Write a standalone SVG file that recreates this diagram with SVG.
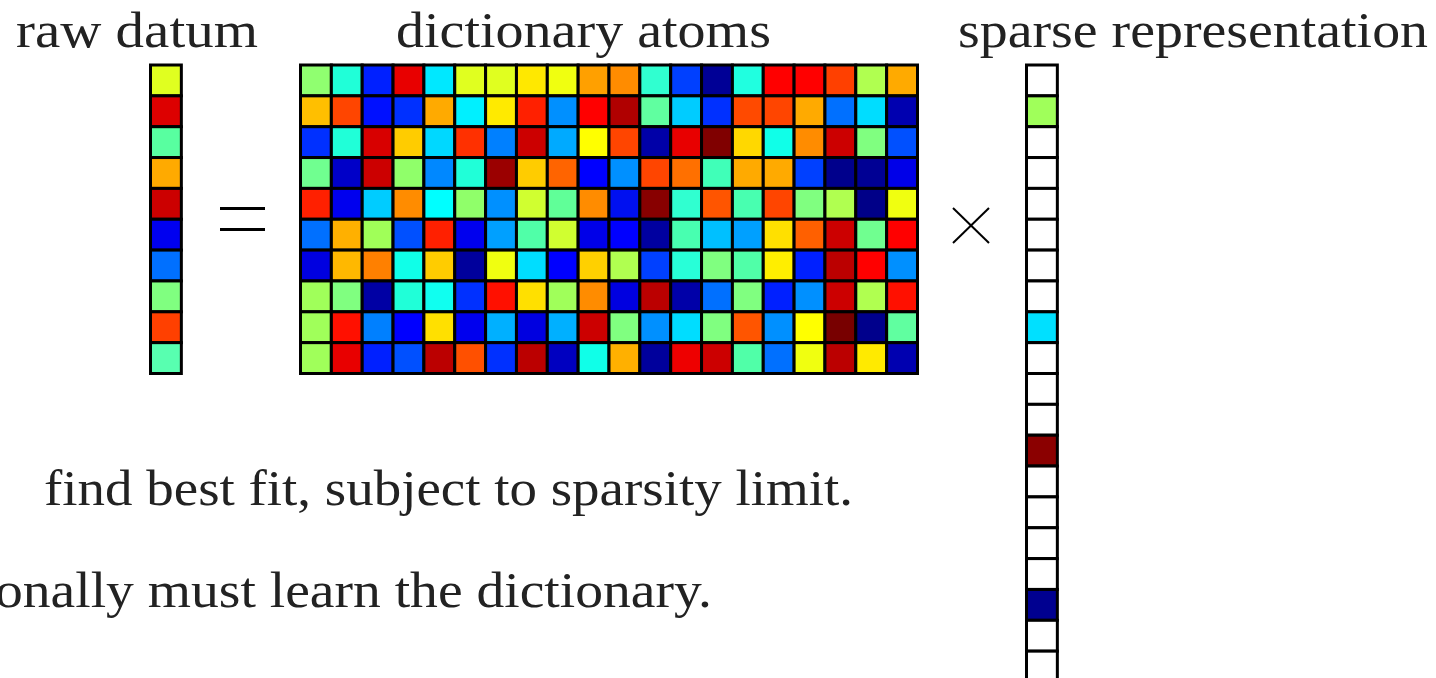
<svg xmlns="http://www.w3.org/2000/svg" width="1436" height="678" viewBox="0 0 1436 678">
<style>
.t{font-family:"Liberation Serif","DejaVu Serif",serif;font-size:50px;fill:#222}
.cells rect{stroke:#000;stroke-width:3}
.op{stroke:#000;fill:none}
</style>
<rect width="1436" height="678" fill="#fff"/>
<g id="labels">
<text class="t" x="16" y="47" textLength="242" lengthAdjust="spacingAndGlyphs">raw datum</text>
<text class="t" x="396" y="47" textLength="375" lengthAdjust="spacingAndGlyphs">dictionary atoms</text>
<text class="t" x="958" y="47" textLength="470" lengthAdjust="spacingAndGlyphs">sparse representation</text>
<text class="t" x="44" y="505" textLength="809" lengthAdjust="spacingAndGlyphs">find best fit, subject to sparsity limit.</text>
<text class="t" x="-5" y="607" textLength="717" lengthAdjust="spacingAndGlyphs">onally must learn the dictionary.</text>
</g>
<g id="raw-datum" class="cells">
<rect x="150.5" y="65" width="30.85" height="30.85" fill="#e0ff20"/>
<rect x="150.5" y="95.85" width="30.85" height="30.85" fill="#dd0000"/>
<rect x="150.5" y="126.7" width="30.85" height="30.85" fill="#58ffa0"/>
<rect x="150.5" y="157.55" width="30.85" height="30.85" fill="#ffaa00"/>
<rect x="150.5" y="188.4" width="30.85" height="30.85" fill="#cc0000"/>
<rect x="150.5" y="219.25" width="30.85" height="30.85" fill="#0000f0"/>
<rect x="150.5" y="250.1" width="30.85" height="30.85" fill="#0070ff"/>
<rect x="150.5" y="280.95" width="30.85" height="30.85" fill="#80ff80"/>
<rect x="150.5" y="311.8" width="30.85" height="30.85" fill="#ff4000"/>
<rect x="150.5" y="342.65" width="30.85" height="30.85" fill="#58ffb0"/>
</g>
<g id="equals" class="op" stroke-width="3">
<line x1="220" y1="208.5" x2="265" y2="208.5"/>
<line x1="220" y1="229.5" x2="265" y2="229.5"/>
</g>
<g id="dictionary" class="cells">
<g transform="translate(0,65)">
<rect x="300.5" width="30.85" height="30.85" fill="#90ff70"/>
<rect x="331.35" width="30.85" height="30.85" fill="#20ffd8"/>
<rect x="362.2" width="30.85" height="30.85" fill="#0020ff"/>
<rect x="393.05" width="30.85" height="30.85" fill="#e80000"/>
<rect x="423.9" width="30.85" height="30.85" fill="#00e8ff"/>
<rect x="454.75" width="30.85" height="30.85" fill="#e0ff20"/>
<rect x="485.6" width="30.85" height="30.85" fill="#e0ff20"/>
<rect x="516.45" width="30.85" height="30.85" fill="#ffe800"/>
<rect x="547.3" width="30.85" height="30.85" fill="#f0ff10"/>
<rect x="578.15" width="30.85" height="30.85" fill="#ffa000"/>
<rect x="609" width="30.85" height="30.85" fill="#ff8c00"/>
<rect x="639.85" width="30.85" height="30.85" fill="#30ffd0"/>
<rect x="670.7" width="30.85" height="30.85" fill="#0040ff"/>
<rect x="701.55" width="30.85" height="30.85" fill="#000096"/>
<rect x="732.4" width="30.85" height="30.85" fill="#20ffe0"/>
<rect x="763.25" width="30.85" height="30.85" fill="#ff0000"/>
<rect x="794.1" width="30.85" height="30.85" fill="#ff0000"/>
<rect x="824.95" width="30.85" height="30.85" fill="#ff4000"/>
<rect x="855.8" width="30.85" height="30.85" fill="#b0ff50"/>
<rect x="886.65" width="30.85" height="30.85" fill="#ffaa00"/>
</g>
<g transform="translate(0,95.85)">
<rect x="300.5" width="30.85" height="30.85" fill="#ffbf00"/>
<rect x="331.35" width="30.85" height="30.85" fill="#ff4500"/>
<rect x="362.2" width="30.85" height="30.85" fill="#0010ff"/>
<rect x="393.05" width="30.85" height="30.85" fill="#0030ff"/>
<rect x="423.9" width="30.85" height="30.85" fill="#ffaa00"/>
<rect x="454.75" width="30.85" height="30.85" fill="#00f0ff"/>
<rect x="485.6" width="30.85" height="30.85" fill="#ffea00"/>
<rect x="516.45" width="30.85" height="30.85" fill="#ff2000"/>
<rect x="547.3" width="30.85" height="30.85" fill="#0090ff"/>
<rect x="578.15" width="30.85" height="30.85" fill="#ff0000"/>
<rect x="609" width="30.85" height="30.85" fill="#b00000"/>
<rect x="639.85" width="30.85" height="30.85" fill="#60ffa0"/>
<rect x="670.7" width="30.85" height="30.85" fill="#00ccff"/>
<rect x="701.55" width="30.85" height="30.85" fill="#0030ff"/>
<rect x="732.4" width="30.85" height="30.85" fill="#ff4a00"/>
<rect x="763.25" width="30.85" height="30.85" fill="#ff4500"/>
<rect x="794.1" width="30.85" height="30.85" fill="#ffaa00"/>
<rect x="824.95" width="30.85" height="30.85" fill="#0070ff"/>
<rect x="855.8" width="30.85" height="30.85" fill="#00ddff"/>
<rect x="886.65" width="30.85" height="30.85" fill="#0000b0"/>
</g>
<g transform="translate(0,126.7)">
<rect x="300.5" width="30.85" height="30.85" fill="#0030ff"/>
<rect x="331.35" width="30.85" height="30.85" fill="#20ffd8"/>
<rect x="362.2" width="30.85" height="30.85" fill="#d80000"/>
<rect x="393.05" width="30.85" height="30.85" fill="#ffcc00"/>
<rect x="423.9" width="30.85" height="30.85" fill="#00d8ff"/>
<rect x="454.75" width="30.85" height="30.85" fill="#ff3000"/>
<rect x="485.6" width="30.85" height="30.85" fill="#0080ff"/>
<rect x="516.45" width="30.85" height="30.85" fill="#cc0000"/>
<rect x="547.3" width="30.85" height="30.85" fill="#00aaff"/>
<rect x="578.15" width="30.85" height="30.85" fill="#ffff00"/>
<rect x="609" width="30.85" height="30.85" fill="#ff4500"/>
<rect x="639.85" width="30.85" height="30.85" fill="#0000a8"/>
<rect x="670.7" width="30.85" height="30.85" fill="#e80000"/>
<rect x="701.55" width="30.85" height="30.85" fill="#800000"/>
<rect x="732.4" width="30.85" height="30.85" fill="#ffd800"/>
<rect x="763.25" width="30.85" height="30.85" fill="#10ffe8"/>
<rect x="794.1" width="30.85" height="30.85" fill="#ff8c00"/>
<rect x="824.95" width="30.85" height="30.85" fill="#cc0000"/>
<rect x="855.8" width="30.85" height="30.85" fill="#80ff80"/>
<rect x="886.65" width="30.85" height="30.85" fill="#0050ff"/>
</g>
<g transform="translate(0,157.55)">
<rect x="300.5" width="30.85" height="30.85" fill="#70ff90"/>
<rect x="331.35" width="30.85" height="30.85" fill="#0000c8"/>
<rect x="362.2" width="30.85" height="30.85" fill="#cc0000"/>
<rect x="393.05" width="30.85" height="30.85" fill="#90ff6a"/>
<rect x="423.9" width="30.85" height="30.85" fill="#0088ff"/>
<rect x="454.75" width="30.85" height="30.85" fill="#20ffd8"/>
<rect x="485.6" width="30.85" height="30.85" fill="#9b0000"/>
<rect x="516.45" width="30.85" height="30.85" fill="#ffcc00"/>
<rect x="547.3" width="30.85" height="30.85" fill="#ff6400"/>
<rect x="578.15" width="30.85" height="30.85" fill="#0000ff"/>
<rect x="609" width="30.85" height="30.85" fill="#0090ff"/>
<rect x="639.85" width="30.85" height="30.85" fill="#ff4500"/>
<rect x="670.7" width="30.85" height="30.85" fill="#ff7000"/>
<rect x="701.55" width="30.85" height="30.85" fill="#40ffb8"/>
<rect x="732.4" width="30.85" height="30.85" fill="#ffaa00"/>
<rect x="763.25" width="30.85" height="30.85" fill="#ffaa00"/>
<rect x="794.1" width="30.85" height="30.85" fill="#0040ff"/>
<rect x="824.95" width="30.85" height="30.85" fill="#00008c"/>
<rect x="855.8" width="30.85" height="30.85" fill="#000094"/>
<rect x="886.65" width="30.85" height="30.85" fill="#0000e8"/>
</g>
<g transform="translate(0,188.4)">
<rect x="300.5" width="30.85" height="30.85" fill="#ff2000"/>
<rect x="331.35" width="30.85" height="30.85" fill="#0000ee"/>
<rect x="362.2" width="30.85" height="30.85" fill="#00ccff"/>
<rect x="393.05" width="30.85" height="30.85" fill="#ff8c00"/>
<rect x="423.9" width="30.85" height="30.85" fill="#00ffff"/>
<rect x="454.75" width="30.85" height="30.85" fill="#90ff6a"/>
<rect x="485.6" width="30.85" height="30.85" fill="#0090ff"/>
<rect x="516.45" width="30.85" height="30.85" fill="#d0ff30"/>
<rect x="547.3" width="30.85" height="30.85" fill="#60ff98"/>
<rect x="578.15" width="30.85" height="30.85" fill="#ff8c00"/>
<rect x="609" width="30.85" height="30.85" fill="#0010f0"/>
<rect x="639.85" width="30.85" height="30.85" fill="#880000"/>
<rect x="670.7" width="30.85" height="30.85" fill="#30ffd0"/>
<rect x="701.55" width="30.85" height="30.85" fill="#ff5500"/>
<rect x="732.4" width="30.85" height="30.85" fill="#48ffb0"/>
<rect x="763.25" width="30.85" height="30.85" fill="#ff4500"/>
<rect x="794.1" width="30.85" height="30.85" fill="#80ff80"/>
<rect x="824.95" width="30.85" height="30.85" fill="#b0ff50"/>
<rect x="855.8" width="30.85" height="30.85" fill="#000088"/>
<rect x="886.65" width="30.85" height="30.85" fill="#f0ff10"/>
</g>
<g transform="translate(0,219.25)">
<rect x="300.5" width="30.85" height="30.85" fill="#0070ff"/>
<rect x="331.35" width="30.85" height="30.85" fill="#ffb000"/>
<rect x="362.2" width="30.85" height="30.85" fill="#a0ff58"/>
<rect x="393.05" width="30.85" height="30.85" fill="#0050ff"/>
<rect x="423.9" width="30.85" height="30.85" fill="#ff2000"/>
<rect x="454.75" width="30.85" height="30.85" fill="#0000ee"/>
<rect x="485.6" width="30.85" height="30.85" fill="#00a0ff"/>
<rect x="516.45" width="30.85" height="30.85" fill="#50ffa8"/>
<rect x="547.3" width="30.85" height="30.85" fill="#d0ff30"/>
<rect x="578.15" width="30.85" height="30.85" fill="#0000e8"/>
<rect x="609" width="30.85" height="30.85" fill="#0000ff"/>
<rect x="639.85" width="30.85" height="30.85" fill="#0000a0"/>
<rect x="670.7" width="30.85" height="30.85" fill="#48ffb0"/>
<rect x="701.55" width="30.85" height="30.85" fill="#00c0ff"/>
<rect x="732.4" width="30.85" height="30.85" fill="#00a0ff"/>
<rect x="763.25" width="30.85" height="30.85" fill="#ffe000"/>
<rect x="794.1" width="30.85" height="30.85" fill="#ff6000"/>
<rect x="824.95" width="30.85" height="30.85" fill="#cc0000"/>
<rect x="855.8" width="30.85" height="30.85" fill="#70ff90"/>
<rect x="886.65" width="30.85" height="30.85" fill="#ff0000"/>
</g>
<g transform="translate(0,250.1)">
<rect x="300.5" width="30.85" height="30.85" fill="#0000e0"/>
<rect x="331.35" width="30.85" height="30.85" fill="#ffb800"/>
<rect x="362.2" width="30.85" height="30.85" fill="#ff8000"/>
<rect x="393.05" width="30.85" height="30.85" fill="#10ffe8"/>
<rect x="423.9" width="30.85" height="30.85" fill="#ffcc00"/>
<rect x="454.75" width="30.85" height="30.85" fill="#00009c"/>
<rect x="485.6" width="30.85" height="30.85" fill="#f0ff10"/>
<rect x="516.45" width="30.85" height="30.85" fill="#00ddff"/>
<rect x="547.3" width="30.85" height="30.85" fill="#0000ff"/>
<rect x="578.15" width="30.85" height="30.85" fill="#ffd000"/>
<rect x="609" width="30.85" height="30.85" fill="#b0ff50"/>
<rect x="639.85" width="30.85" height="30.85" fill="#0040ff"/>
<rect x="670.7" width="30.85" height="30.85" fill="#28ffd8"/>
<rect x="701.55" width="30.85" height="30.85" fill="#80ff80"/>
<rect x="732.4" width="30.85" height="30.85" fill="#50ffa8"/>
<rect x="763.25" width="30.85" height="30.85" fill="#ffee00"/>
<rect x="794.1" width="30.85" height="30.85" fill="#0020ff"/>
<rect x="824.95" width="30.85" height="30.85" fill="#bb0000"/>
<rect x="855.8" width="30.85" height="30.85" fill="#ff0000"/>
<rect x="886.65" width="30.85" height="30.85" fill="#0090ff"/>
</g>
<g transform="translate(0,280.95)">
<rect x="300.5" width="30.85" height="30.85" fill="#a0ff5a"/>
<rect x="331.35" width="30.85" height="30.85" fill="#80ff80"/>
<rect x="362.2" width="30.85" height="30.85" fill="#0000a4"/>
<rect x="393.05" width="30.85" height="30.85" fill="#20ffd8"/>
<rect x="423.9" width="30.85" height="30.85" fill="#10fff0"/>
<rect x="454.75" width="30.85" height="30.85" fill="#0030ff"/>
<rect x="485.6" width="30.85" height="30.85" fill="#ff1000"/>
<rect x="516.45" width="30.85" height="30.85" fill="#ffe000"/>
<rect x="547.3" width="30.85" height="30.85" fill="#a0ff5a"/>
<rect x="578.15" width="30.85" height="30.85" fill="#ff8c00"/>
<rect x="609" width="30.85" height="30.85" fill="#0000e0"/>
<rect x="639.85" width="30.85" height="30.85" fill="#bb0000"/>
<rect x="670.7" width="30.85" height="30.85" fill="#0000a8"/>
<rect x="701.55" width="30.85" height="30.85" fill="#0070ff"/>
<rect x="732.4" width="30.85" height="30.85" fill="#80ff80"/>
<rect x="763.25" width="30.85" height="30.85" fill="#0020ff"/>
<rect x="794.1" width="30.85" height="30.85" fill="#0090ff"/>
<rect x="824.95" width="30.85" height="30.85" fill="#cc0000"/>
<rect x="855.8" width="30.85" height="30.85" fill="#b0ff50"/>
<rect x="886.65" width="30.85" height="30.85" fill="#ff1000"/>
</g>
<g transform="translate(0,311.8)">
<rect x="300.5" width="30.85" height="30.85" fill="#a0ff5a"/>
<rect x="331.35" width="30.85" height="30.85" fill="#ff1000"/>
<rect x="362.2" width="30.85" height="30.85" fill="#0080ff"/>
<rect x="393.05" width="30.85" height="30.85" fill="#0000ff"/>
<rect x="423.9" width="30.85" height="30.85" fill="#ffe000"/>
<rect x="454.75" width="30.85" height="30.85" fill="#0000ee"/>
<rect x="485.6" width="30.85" height="30.85" fill="#00b0ff"/>
<rect x="516.45" width="30.85" height="30.85" fill="#0000e0"/>
<rect x="547.3" width="30.85" height="30.85" fill="#00b0ff"/>
<rect x="578.15" width="30.85" height="30.85" fill="#cc0000"/>
<rect x="609" width="30.85" height="30.85" fill="#80ff80"/>
<rect x="639.85" width="30.85" height="30.85" fill="#0090ff"/>
<rect x="670.7" width="30.85" height="30.85" fill="#00ddff"/>
<rect x="701.55" width="30.85" height="30.85" fill="#80ff80"/>
<rect x="732.4" width="30.85" height="30.85" fill="#ff5500"/>
<rect x="763.25" width="30.85" height="30.85" fill="#0090ff"/>
<rect x="794.1" width="30.85" height="30.85" fill="#ffff00"/>
<rect x="824.95" width="30.85" height="30.85" fill="#780000"/>
<rect x="855.8" width="30.85" height="30.85" fill="#00008c"/>
<rect x="886.65" width="30.85" height="30.85" fill="#60ffa0"/>
</g>
<g transform="translate(0,342.65)">
<rect x="300.5" width="30.85" height="30.85" fill="#a0ff5a"/>
<rect x="331.35" width="30.85" height="30.85" fill="#e80000"/>
<rect x="362.2" width="30.85" height="30.85" fill="#0020ff"/>
<rect x="393.05" width="30.85" height="30.85" fill="#0050ff"/>
<rect x="423.9" width="30.85" height="30.85" fill="#bb0000"/>
<rect x="454.75" width="30.85" height="30.85" fill="#ff5000"/>
<rect x="485.6" width="30.85" height="30.85" fill="#0030ff"/>
<rect x="516.45" width="30.85" height="30.85" fill="#bb0000"/>
<rect x="547.3" width="30.85" height="30.85" fill="#0000c0"/>
<rect x="578.15" width="30.85" height="30.85" fill="#10ffe8"/>
<rect x="609" width="30.85" height="30.85" fill="#ffb000"/>
<rect x="639.85" width="30.85" height="30.85" fill="#00009c"/>
<rect x="670.7" width="30.85" height="30.85" fill="#ee0000"/>
<rect x="701.55" width="30.85" height="30.85" fill="#cc0000"/>
<rect x="732.4" width="30.85" height="30.85" fill="#50ffa8"/>
<rect x="763.25" width="30.85" height="30.85" fill="#0070ff"/>
<rect x="794.1" width="30.85" height="30.85" fill="#f0ff10"/>
<rect x="824.95" width="30.85" height="30.85" fill="#bb0000"/>
<rect x="855.8" width="30.85" height="30.85" fill="#ffea00"/>
<rect x="886.65" width="30.85" height="30.85" fill="#0000b0"/>
</g>
</g>
<g id="times" class="op" stroke-width="2">
<line x1="953" y1="208" x2="989" y2="243"/>
<line x1="989" y1="208" x2="953" y2="243"/>
</g>
<g id="sparse" class="cells">
<rect x="1026.5" y="65" width="30.85" height="30.85" fill="#fff"/>
<rect x="1026.5" y="95.85" width="30.85" height="30.85" fill="#a0ff5a"/>
<rect x="1026.5" y="126.7" width="30.85" height="30.85" fill="#fff"/>
<rect x="1026.5" y="157.55" width="30.85" height="30.85" fill="#fff"/>
<rect x="1026.5" y="188.4" width="30.85" height="30.85" fill="#fff"/>
<rect x="1026.5" y="219.25" width="30.85" height="30.85" fill="#fff"/>
<rect x="1026.5" y="250.1" width="30.85" height="30.85" fill="#fff"/>
<rect x="1026.5" y="280.95" width="30.85" height="30.85" fill="#fff"/>
<rect x="1026.5" y="311.8" width="30.85" height="30.85" fill="#00e0ff"/>
<rect x="1026.5" y="342.65" width="30.85" height="30.85" fill="#fff"/>
<rect x="1026.5" y="373.5" width="30.85" height="30.85" fill="#fff"/>
<rect x="1026.5" y="404.35" width="30.85" height="30.85" fill="#fff"/>
<rect x="1026.5" y="435.2" width="30.85" height="30.85" fill="#8b0000"/>
<rect x="1026.5" y="466.05" width="30.85" height="30.85" fill="#fff"/>
<rect x="1026.5" y="496.9" width="30.85" height="30.85" fill="#fff"/>
<rect x="1026.5" y="527.75" width="30.85" height="30.85" fill="#fff"/>
<rect x="1026.5" y="558.6" width="30.85" height="30.85" fill="#fff"/>
<rect x="1026.5" y="589.45" width="30.85" height="30.85" fill="#000090"/>
<rect x="1026.5" y="620.3" width="30.85" height="30.85" fill="#fff"/>
<rect x="1026.5" y="651.15" width="30.85" height="30.85" fill="#fff"/>
</g>
</svg>
